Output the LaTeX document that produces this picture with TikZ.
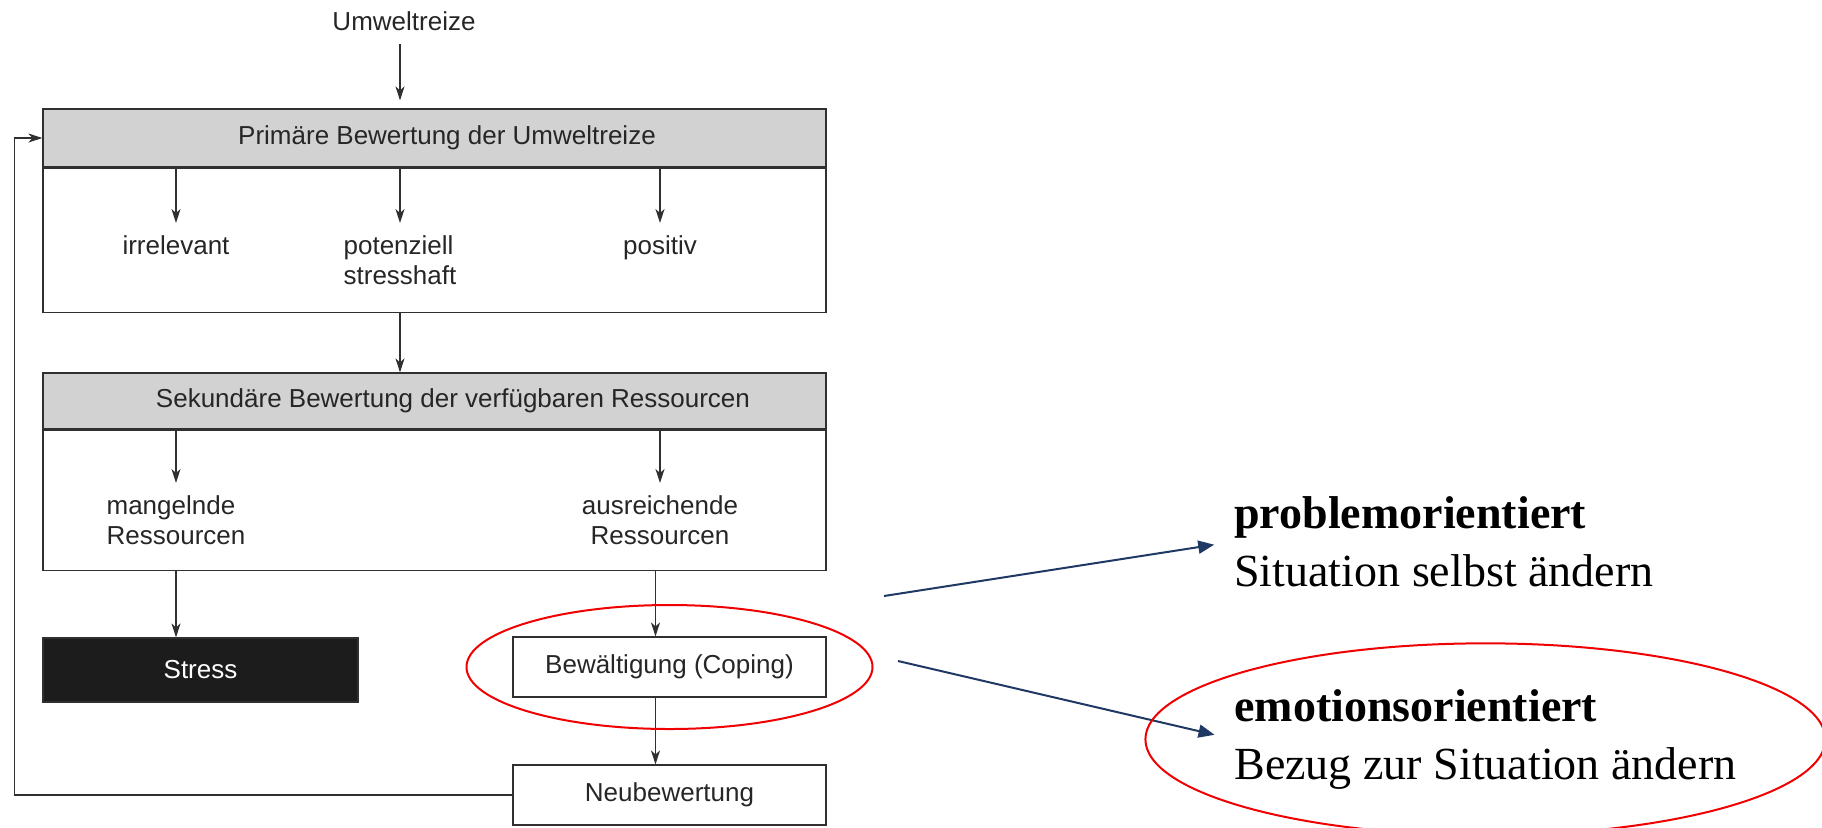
\documentclass[tikz,border=0pt]{standalone}
\usepackage{fontspec}
\setmainfont{Liberation Serif}
\setsansfont{Liberation Sans}
\usetikzlibrary{arrows.meta,shapes.geometric}
\definecolor{kopfgrau}{HTML}{D2D2D2}
\definecolor{linie}{HTML}{303030}
\definecolor{schrift}{HTML}{262626}
\definecolor{stressfill}{HTML}{1C1C1C}
\definecolor{pfeilblau}{HTML}{203864}
\definecolor{kreisrot}{HTML}{F00000}
\tikzset{
  kasten/.style={draw=linie, line width=0.6pt, inner sep=0pt, text=schrift,
    font=\sffamily\fontsize{13}{15}\selectfont},
  kopf/.style={kasten, fill=kopfgrau, minimum width=391.5pt},
  rumpf/.style={kasten, minimum width=391.5pt, anchor=north},
  klein/.style={kasten, minimum width=156.5pt, minimum height=30pt},
  wahl/.style={anchor=north, inner xsep=0pt, inner ysep=6pt, text=schrift,
    font=\sffamily\fontsize{13}{15}\selectfont},
  pfeil/.style={draw=linie, line width=0.6pt, -{Stealth[length=7pt,width=4.5pt,inset=2pt]}},
  folge/.style={draw=pfeilblau, line width=1pt, -{Triangle[length=8pt,width=6.5pt]}},
  ring/.style={draw=kreisrot, line width=1pt},
  spalte/.style={align=left, anchor=north west, inner sep=0pt,
    font=\fontsize{23}{29}\selectfont}
}
\begin{document}
\begin{tikzpicture}[x=0.5pt,y=-0.5pt]
    \path[use as bounding box, clip] (0,0) rectangle (1822,827);

    %BOXES
    \node[kopf, minimum height=29pt] (prim) at (434.5,138) {\hspace*{12.5pt}Primäre Bewertung der Umweltreize};
    \node[rumpf, minimum height=72pt] (primrumpf) at (prim.south) {};
    \node[kopf, minimum height=28pt] (sek) at (434.5,401) {\hspace*{18.5pt}Sekundäre Bewertung der verfügbaren Ressourcen};
    \node[rumpf, minimum height=70pt] (sekrumpf) at (sek.south) {};
    \node[klein, fill=stressfill, text=white, minimum width=157.5pt, minimum height=32pt] (stress) at (200.5,670) {Stress};
    \node[klein] (coping) at (669.5,667) {Bewältigung (Coping)};
    \node[klein] (neu) at (669.5,795) {Neubewertung};

    %LABELS
    \node[text=schrift, inner ysep=6.5pt, font=\sffamily\fontsize{13}{15}\selectfont] (umwelt) at (404,21) {Umweltreize};
    \node[wahl] (irrel) at (176,223) {irrelevant};
    \node[wahl, align=left] (pot) at (400,223) {potenziell\\stresshaft};
    \node[wahl] (posi) at (660,223) {positiv};
    \node[wahl, align=left] (mangel) at (176,483) {mangelnde\\Ressourcen};
    \node[wahl, align=center] (ausr) at (660,483) {ausreichende\\Ressourcen};

    \node[spalte] (prob) at (1234,496) {\textbf{problemorientiert}\\Situation selbst ändern};
    \node[spalte] (emo) at (1234,689) {\textbf{emotionsorientiert}\\Bezug zur Situation ändern};

    \coordinate (copin) at ([xshift=-7pt]coping.north);
    \coordinate (rueck) at ([xshift=-14pt]prim.west);
    \coordinate (abzw1) at (884,596);
    \coordinate (abzw2) at (898,661);

    %EDGES
    \draw[pfeil, shorten >=4pt] (umwelt.south -| pot) -- (prim.north -| pot);
    \draw[pfeil] (prim.south -| irrel) -- (irrel.north);
    \draw[pfeil] (prim.south -| pot) -- (pot.north);
    \draw[pfeil] (prim.south -| posi) -- (posi.north);
    \draw[pfeil] (primrumpf.south -| pot) -- (sek.north -| pot);
    \draw[pfeil] (sek.south -| mangel) -- (mangel.north);
    \draw[pfeil] (sek.south -| ausr) -- (ausr.north);
    \draw[pfeil] (sekrumpf.south -| mangel) -- (stress.north -| mangel);
    \draw[pfeil] (copin |- sekrumpf.south) -- (copin);
    \draw[pfeil] (copin |- coping.south) -- (copin |- neu.north);
    \draw[pfeil] (neu.west) -| (rueck) -- (prim.west);

    \draw[folge, shorten >=10pt] (abzw1) -- (prob.west);
    \draw[folge, shorten >=10pt] (abzw2) -- (emo.west);

    %RINGS
    \draw[ring] (coping.center) ellipse [x radius=101.5pt, y radius=31pt];
    \draw[ring] (emo.center) ellipse [x radius=170pt, y radius=48pt];
\end{tikzpicture}
\end{document}
